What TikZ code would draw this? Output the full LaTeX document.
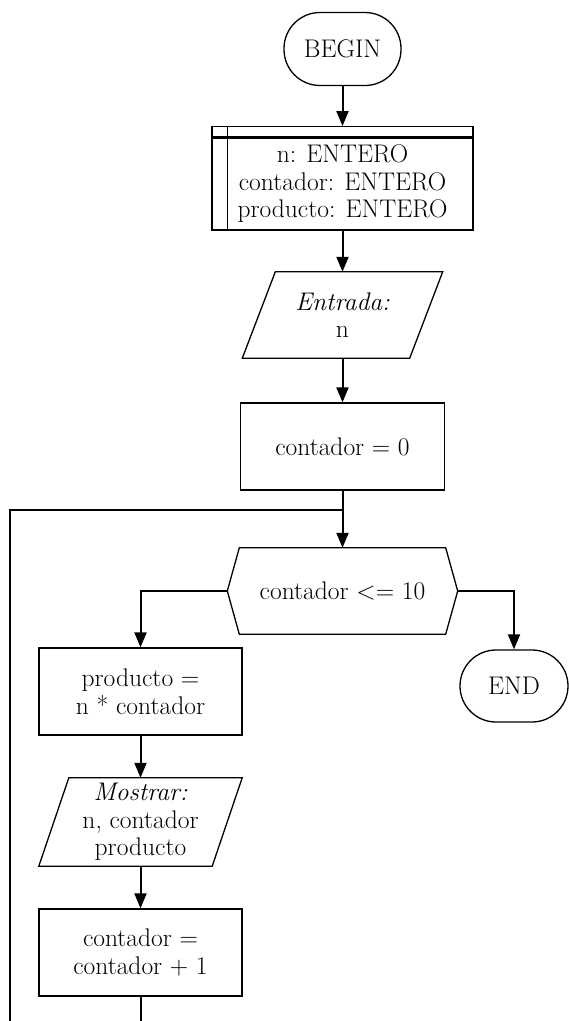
\documentclass[tikz,border=0pt]{standalone}
\usetikzlibrary{arrows.meta,calc}
\begin{document}
\begin{tikzpicture}[x=1pt,y=-1pt,
  every node/.style={font=\fontsize{25.5}{27.5}\selectfont, align=center, inner sep=0pt},
  outline/.style={draw, line width=1.3pt},
  term/.style={outline, rounded corners=36pt},
  proc/.style={outline},
  shapebox/.style={draw=none},
  flow/.style={line width=2pt, -{Triangle[length=15pt,width=12pt]}},
  wire/.style={line width=2pt}
]
\useasboundingbox (0,0) rectangle (569,1021);
\clip (0,0) rectangle (569,1021);

% start terminal
\node[term, minimum width=117pt, minimum height=73pt] (begin) at (342.5,49) {BEGIN};

% declarations block with header strip
\node[proc, minimum width=261pt, minimum height=92pt] (decl) at (342.5,184)
  {n: ENTERO\\contador: ENTERO\\producto: ENTERO};
\node[proc, minimum width=261pt, minimum height=10pt, anchor=south] (declhead) at (decl.north) {};
\draw[line width=1.3pt] ($(declhead.north west)+(16,0)$) -- ($(decl.south west)+(16,0)$);

% input
\node[shapebox, minimum width=200pt, minimum height=86pt] (inp) at (342.5,315)
  {\textit{Entrada:}\\n};
\draw[line width=1.3pt] ($(inp.north west)+(33,0)$) -- (inp.north east)
  -- ($(inp.south east)+(-33,0)$) -- (inp.south west) -- cycle;

% initialisation
\node[proc, minimum width=204pt, minimum height=87pt] (c0) at (342.5,446.5) {contador = 0};

% loop condition (hexagon)
\node[shapebox, minimum width=230pt, minimum height=86pt] (cond) at (342.5,591) {contador <= 10};
\draw[line width=1.3pt] (cond.west) -- ($(cond.north west)+(12,0)$) -- ($(cond.north east)+(-12,0)$)
  -- (cond.east) -- ($(cond.south east)+(-12,0)$) -- ($(cond.south west)+(12,0)$) -- cycle;

% end terminal
\node[term, minimum width=108pt, minimum height=72pt] (end) at (514,686) {END};

% loop body
\node[proc, minimum width=203pt, minimum height=87pt] (prod) at (140.5,691.5)
  {producto =\\n * contador};
\node[shapebox, minimum width=203pt, minimum height=88pt] (out) at (140.5,822)
  {\textit{Mostrar:}\\n, contador\\producto};
\draw[line width=1.3pt] ($(out.north west)+(30,0)$) -- (out.north east)
  -- ($(out.south east)+(-30,0)$) -- (out.south west) -- cycle;
\node[proc, minimum width=203pt, minimum height=87pt] (inc) at (140.5,952.5)
  {contador =\\contador + 1};

% loop-back route
\coordinate (join) at (342.5,510);
\coordinate (lowleft) at (10,1040);

% connectors
\draw[flow] (begin.south) -- (declhead.north);
\draw[flow] (decl.south) -- (inp.north);
\draw[flow] (inp.south) -- (c0.north);
\draw[flow] (c0.south) -- (cond.north);
\draw[flow] (cond.west) -| (prod.north);
\draw[flow] (cond.east) -| (end.north);
\draw[flow] (prod.south) -- (out.north);
\draw[flow] (out.south) -- (inc.north);
\draw[wire] (inc.south) |- (lowleft) |- (join);
\end{tikzpicture}
\end{document}
